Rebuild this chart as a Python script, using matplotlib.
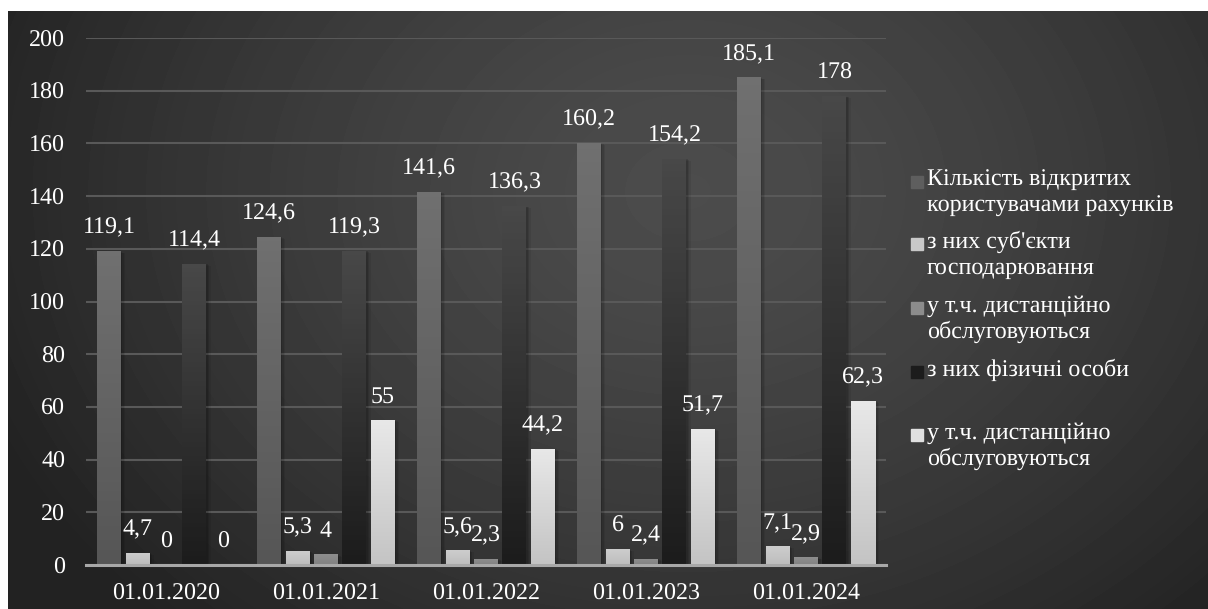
import numpy as np
import matplotlib.pyplot as plt
import matplotlib.patheffects as pe
from matplotlib.colors import LinearSegmentedColormap

plt.rcParams['font.family'] = ['Liberation Serif', 'DejaVu Serif']
plt.rcParams['font.size'] = 17.3
plt.rcParams['text.hinting'] = 'no_hinting'
plt.rcParams['text.hinting_factor'] = 1

dates = ["01.01.2020", "01.01.2021", "01.01.2022", "01.01.2023", "01.01.2024"]
series_names = [
    "Кількість відкритих\nкористувачами рахунків",
    "з них суб'єкти\nгосподарювання",
    "у т.ч. дистанційно\nобслуговуються",
    "з них фізичні особи",
    "у т.ч. дистанційно\nобслуговуються",
]
accounts_total = [119.1, 124.6, 141.6, 160.2, 185.1]
business = [4.7, 5.3, 5.6, 6.0, 7.1]
business_remote = [0.0, 4.0, 2.3, 2.4, 2.9]
persons = [114.4, 119.3, 136.3, 154.2, 178.0]
persons_remote = [0.0, 55.0, 44.2, 51.7, 62.3]
all_series = [accounts_total, business, business_remote, persons, persons_remote]

# top / bottom gradient colours of each series
grad = [("#707070", "#565656"), ("#cdcdcd", "#bdbdbd"), ("#8e8e8e", "#828282"),
        ("#484848", "#1c1c1c"), ("#e8e8e8", "#c4c4c4")]
legend_colors = ["#5e5e5e", "#c8c8c8", "#8c8c8c", "#1c1c1c", "#e0e0e0"]

W, H = 1208, 609
fig = plt.figure(figsize=(W / 100, H / 100), dpi=100)
fig.patch.set_facecolor("white")

# dark radial background
bg = fig.add_axes([8 / W, 0, 1200 / W, 598 / H])
yy, xx = np.mgrid[0:598, 0:1200]
r = np.sqrt(((xx - 680) / 760.0) ** 2 + ((yy - 180) / 600.0) ** 2)
shade = 0x4c - (0x4c - 0x22) * np.clip(r, 0, 1) ** 1.4
bg.imshow(shade / 255.0, cmap="gray", vmin=0, vmax=1, aspect="auto",
          interpolation="bilinear")
bg.axis("off")

ax = fig.add_axes([86 / W, 1 - 565 / H, 800 / W, 527 / H])
ax.set_facecolor("none")

x = np.arange(len(dates))
offsets = np.array([-2, -1, 0, 1, 2]) * 0.178
width = 0.15
shadow = [pe.SimplePatchShadow(offset=(1.0, -0.5), shadow_rgbFace="black", alpha=0.12),
          pe.SimplePatchShadow(offset=(2.0, -1.0), shadow_rgbFace="black", alpha=0.10),
          pe.SimplePatchShadow(offset=(3.0, -1.5), shadow_rgbFace="black", alpha=0.07),
          pe.Normal()]

for i, vals in enumerate(all_series):
    cmap = LinearSegmentedColormap.from_list("g%d" % i, [grad[i][1], grad[i][0]])
    bars = ax.bar(x + offsets[i], vals, width, color=grad[i][0], zorder=3)
    for b, v in zip(bars, vals):
        if v > 0:
            b.set_path_effects(shadow)
            img = ax.imshow(np.linspace(0, 1, 64).reshape(-1, 1), cmap=cmap,
                            extent=[b.get_x(), b.get_x() + b.get_width(), 0, v],
                            origin="lower", aspect="auto", zorder=3.5)
            img.set_clip_path(b)
        ax.annotate(f"{v:g}".replace(".", ","), (b.get_x() + b.get_width() / 2, v),
                    xytext=(0, 12.5), textcoords="offset points", ha="center",
                    va="baseline", color="white", zorder=5)

ax.set_xlim(-0.5, 4.5)
ax.set_ylim(0, 200)
ax.set_yticks(np.arange(0, 201, 20))
ax.set_xticks(x)
ax.set_xticklabels(dates)
ax.yaxis.grid(True, color="#595959", lw=1.5, zorder=0)
ax.set_axisbelow(True)
for s in ["top", "right", "left"]:
    ax.spines[s].set_visible(False)
ax.spines["bottom"].set_color("#a8a8a8")
ax.spines["bottom"].set_linewidth(2.2)
ax.spines["bottom"].set_zorder(4)
ax.tick_params(axis="both", length=0, colors="white", labelcolor="white")
ax.tick_params(axis="y", pad=15)
ax.tick_params(axis="x", pad=13)

# legend
entry_y = [182, 244, 308, 372, 435]
for name, col, ey in zip(series_names, legend_colors, entry_y):
    fig.patches.append(plt.Rectangle((911 / W, 1 - (ey + 6) / H), 12 / W, 12 / H,
                                     transform=fig.transFigure, color=col))
    fig.text(927 / W, 1 - (ey - 13) / H, name, color="white", va="top", ha="left",
             linespacing=1.25)

fig.savefig("out.png", dpi=100)
